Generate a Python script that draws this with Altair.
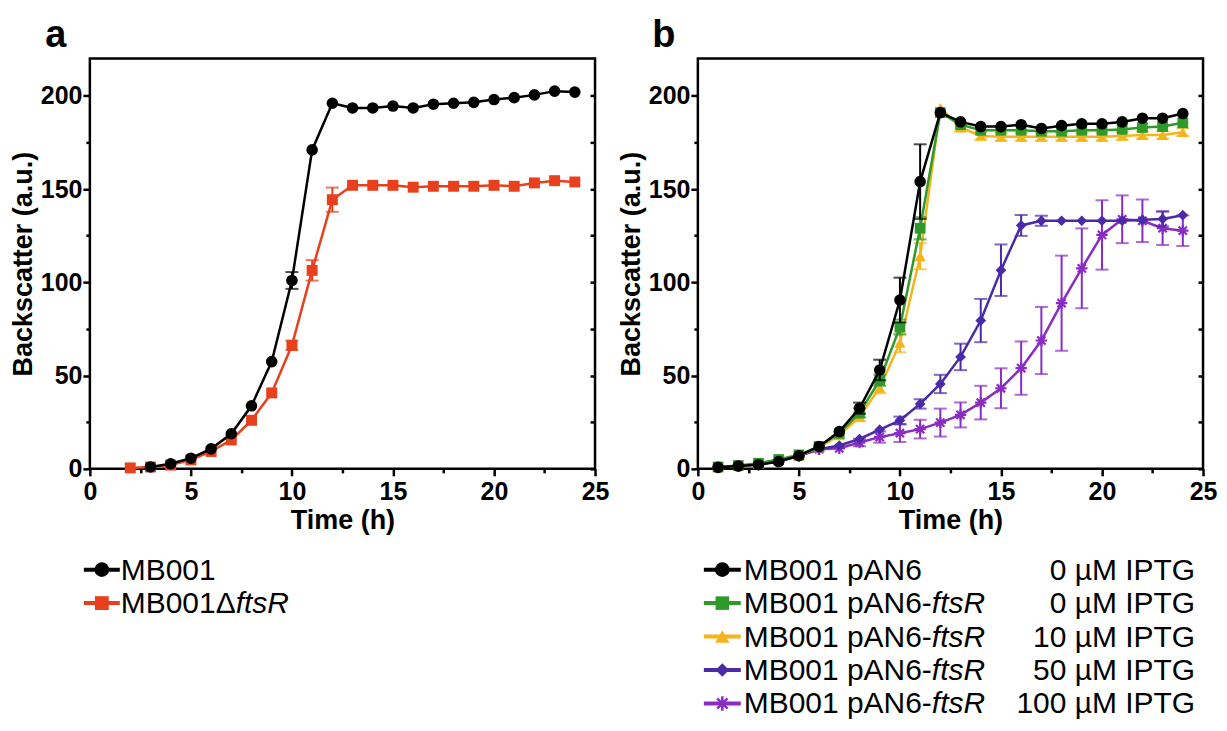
import altair as alt
import pandas as pd

FONT = "Liberation Sans"

# ---------------- data ----------------
# Panel a
TIME_A_WT = list(range(3, 25))
BS_A_WT = [1.0, 2.7, 5.7, 10.7, 18.8, 33.8, 57.5, 101.0, 171.0, 196.0, 193.5,
           193.5, 194.5, 193.5, 195.5, 196.0, 196.5, 198.0, 199.0, 200.5, 202.5, 202.0]
ERR_A_WT = [0.3, 0.4, 0.5, 0.7, 0.8, 1.0, 1.2, 4.5, 1.5, 1.0, 0.8,
            0.8, 0.8, 0.8, 0.8, 0.8, 0.8, 0.8, 0.8, 0.8, 0.8, 0.8]
TIME_A_DEL = list(range(2, 25))
BS_A_DEL = [0.5, 1.0, 2.0, 4.8, 9.3, 15.5, 26.0, 40.7, 66.2, 106.4, 144.3, 152.0,
            152.0, 152.0, 151.0, 151.5, 151.5, 151.5, 152.0, 151.5, 153.3, 154.5, 153.8]
ERR_A_DEL = [0.2, 0.3, 0.4, 0.5, 0.7, 0.8, 1.0, 1.5, 2.5, 5.5, 6.5, 1.5,
             1.0, 1.0, 1.0, 1.0, 1.0, 1.0, 1.0, 1.0, 1.0, 1.0, 1.0]

# Panel b
TIME_B = list(range(1, 25))
BS_B_PAN6 = [0.8, 1.5, 2.2, 3.9, 7.0, 12.0, 20.0, 32.5, 53.0, 90.5, 154.0, 191.0,
             186.0, 183.5, 183.5, 184.5, 182.5, 184.0, 185.0, 185.0, 186.0, 188.0, 188.0, 190.5]
ERR_B_PAN6 = [0.3, 0.4, 0.5, 0.6, 0.8, 1.0, 1.5, 3.0, 5.5, 12.0, 20.0, 1.5,
              1.0, 1.0, 1.0, 1.0, 1.0, 1.0, 1.0, 1.0, 1.0, 1.0, 1.0, 1.0]
BS_B_0 = [1.0, 1.8, 3.0, 5.0, 7.5, 12.0, 19.0, 30.0, 47.5, 76.0, 129.0, 191.0,
          184.5, 181.5, 181.5, 181.5, 181.0, 181.0, 181.5, 181.5, 182.0, 183.0, 183.5, 185.5]
ERR_B_0 = [0.3, 0.4, 0.5, 0.6, 0.8, 1.0, 1.5, 2.5, 3.0, 4.0, 6.0, 1.5,
           1.5, 1.5, 1.5, 1.5, 1.5, 1.5, 1.5, 1.5, 1.5, 1.5, 1.5, 1.5]
BS_B_10 = [0.8, 1.5, 2.5, 4.5, 7.0, 11.5, 18.0, 28.0, 43.5, 67.5, 114.0, 193.5,
           183.0, 178.5, 178.0, 178.0, 178.0, 178.0, 178.0, 178.0, 178.5, 179.0, 179.0, 180.5]
ERR_B_10 = [0.3, 0.4, 0.5, 0.6, 0.8, 1.0, 1.5, 2.5, 3.0, 5.0, 7.0, 1.5,
            2.0, 2.0, 2.0, 2.0, 2.0, 2.0, 2.0, 2.0, 2.0, 2.0, 2.0, 2.0]
BS_B_50 = [0.8, 1.5, 2.5, 4.0, 7.0, 10.5, 12.5, 16.0, 21.0, 26.0, 34.8, 45.5,
           60.0, 79.5, 106.5, 130.5, 133.0, 133.0, 133.0, 133.0, 133.0, 133.5, 134.0, 136.0]
ERR_B_50 = [0.3, 0.4, 0.5, 0.6, 0.8, 1.0, 1.0, 1.5, 1.5, 2.0, 2.5, 4.9,
            7.1, 11.6, 13.8, 5.6, 2.7, 1.0, 1.0, 1.0, 1.0, 1.0, 4.0, 1.5]
BS_B_100 = [0.8, 1.5, 2.5, 4.0, 7.0, 10.5, 11.0, 14.1, 17.0, 19.1, 21.3, 24.8,
            28.9, 35.5, 43.2, 54.0, 68.8, 88.8, 107.5, 125.4, 133.8, 133.0, 129.0, 127.7]
ERR_B_100 = [0.3, 0.4, 0.5, 0.6, 0.8, 1.0, 1.0, 2.0, 3.0, 4.7, 5.0, 7.5,
             6.7, 9.0, 10.7, 14.3, 18.0, 25.5, 21.4, 18.6, 12.8, 11.4, 9.0, 8.2]

# legend texts
STRAIN_A = ["MB001", "MB001\u0394"]
GENE_A = ["", "ftsR"]
STRAIN_B = ["MB001 pAN6", "MB001 pAN6-", "MB001 pAN6-", "MB001 pAN6-", "MB001 pAN6-"]
GENE_B = ["", "ftsR", "ftsR", "ftsR", "ftsR"]
IPTG_B = ["0 \u00b5M IPTG", "0 \u00b5M IPTG", "10 \u00b5M IPTG", "50 \u00b5M IPTG", "100 \u00b5M IPTG"]

X_MAJOR = [0, 5, 10, 15, 20, 25]
X_MINOR = [2.5, 7.5, 12.5, 17.5, 22.5]
Y_MAJOR = [0, 50, 100, 150, 200]
Y_MINOR = [25, 75, 125, 175]

# ---------------- styles / layout ----------------
ASTERISK = "M-1,0L1,0M0,-1L0,1M-0.72,-0.72L0.72,0.72M-0.72,0.72L0.72,-0.72"
ST_BLACK = dict(color="#000000", shape="circle", size=135, filled=True)
ST_RED = dict(color="#E8401C", shape="square", size=120, filled=True)
ST_GREEN = dict(color="#2E9A2A", shape="square", size=115, filled=True)
ST_YELLOW = dict(color="#F6B41C", shape="triangle-up", size=130, filled=True)
ST_DIAMOND = dict(color="#4A2AA6", shape="diamond", size=115, filled=True)
ST_STAR = dict(color="#8A2CC4", shape=ASTERISK, size=130, filled=False)

W, H = 506, 411
LF = 30  # legend font size
ROW = 33.5
LEG_Y0 = 522

xs = alt.Scale(domain=[0, 25], nice=False, zero=False)
ys = alt.Scale(domain=[0, 220], nice=False, zero=False)

ARIAL = {'M': 833, 'B': 667, '0': 556, '1': 556, ' ': 278, 'p': 556, 'A': 667,
         'N': 722, '6': 556, '-': 333, '\u0394': 668}


def text_w(s, size):
    return sum(ARIAL.get(c, 556) for c in s) * size / 1000.0


def make_df(t, v, e):
    return pd.DataFrame({"t": t, "v": v, "e": e})


AXC = dict(domain=False, grid=False, tickColor="black", tickWidth=2.5,
           labelColor="black", titleColor="black", labelFont=FONT, titleFont=FONT,
           labelFlush=False, labelOverlap=False)


def axis_layers(df):
    base = alt.Chart(df).mark_point(opacity=0)
    xmaj = alt.Axis(orient="bottom", values=X_MAJOR, tickSize=7, labelFontSize=25,
                    labelFontWeight="bold", labelPadding=4, title="Time (h)",
                    titleFontSize=27, titleFontWeight="bold", titlePadding=3, **AXC)
    xmin = alt.Axis(orient="bottom", values=X_MINOR, tickSize=4, labels=False,
                    title=None, **AXC)
    ymaj = alt.Axis(orient="left", values=Y_MAJOR, tickSize=7, labelFontSize=25,
                    labelFontWeight="bold", labelPadding=1, title="Backscatter (a.u.)",
                    titleFontSize=27, titleFontWeight="bold", titlePadding=3, **AXC)
    ymin = alt.Axis(orient="left", values=Y_MINOR, tickSize=4, labels=False,
                    title=None, **AXC)
    yright = alt.Axis(orient="right", values=Y_MAJOR + Y_MINOR, tickSize=5, offset=-5,
                      labels=False, title=None, **AXC)
    return [
        base.encode(x=alt.X("t:Q", scale=xs, axis=xmaj), y=alt.Y("v:Q", scale=ys, axis=ymaj)),
        base.encode(x=alt.X("t:Q", scale=xs, axis=xmin), y=alt.Y("v:Q", scale=ys, axis=ymin)),
        base.encode(x=alt.X("t:Q", scale=xs, axis=None), y=alt.Y("v:Q", scale=ys, axis=yright)),
    ]


def series_layers(df, st):
    base = alt.Chart(df)
    x = alt.X("t:Q", scale=xs, axis=None)
    y = alt.Y("v:Q", scale=ys, axis=None)
    c = st["color"]
    line = base.mark_line(color=c, strokeWidth=2.5).encode(x=x, y=y)
    errbase = base.transform_filter("datum.e >= 2").transform_calculate(
        lo="datum.v - datum.e", hi="datum.v + datum.e")
    rule = errbase.mark_rule(color=c, strokeWidth=2).encode(
        x=x, y=alt.Y("lo:Q", scale=ys, axis=None), y2="hi:Q")
    caps = errbase.transform_fold(["lo", "hi"], as_=["k", "cap"]).mark_tick(
        orient="horizontal", size=13, thickness=2, color=c).encode(
        x=x, y=alt.Y("cap:Q", scale=ys, axis=None))
    if st["filled"]:
        pts = base.mark_point(shape=st["shape"], size=st["size"], filled=True,
                              color=c, opacity=1).encode(x=x, y=y)
    else:
        pts = base.mark_point(shape=st["shape"], size=st["size"], filled=False,
                              color=c, opacity=1, strokeWidth=2.2).encode(x=x, y=y)
    return [line, rule, caps, pts]


def legend_row(st, yb, x0, x1, xt, strain, gene, right=None, xr=None):
    one = pd.DataFrame({"k": [0]})
    yc = yb - 10
    c = st["color"]
    out = [alt.Chart(one).mark_rule(color=c, strokeWidth=4).encode(
        x=alt.value(x0), x2=alt.value(x1), y=alt.value(yc))]
    if st["filled"]:
        out.append(alt.Chart(one).mark_point(shape=st["shape"], size=st["size"] * 1.6,
                                             filled=True, color=c, opacity=1).encode(
            x=alt.value((x0 + x1) / 2), y=alt.value(yc)))
    else:
        out.append(alt.Chart(one).mark_point(shape=st["shape"], size=st["size"] * 1.6,
                                             filled=False, color=c, opacity=1,
                                             strokeWidth=2.5).encode(
            x=alt.value((x0 + x1) / 2), y=alt.value(yc)))
    out.append(alt.Chart(pd.DataFrame({"label": [strain]})).mark_text(
        align="left", baseline="alphabetic", fontSize=LF, font=FONT, color="black").encode(
        text="label:N", x=alt.value(xt), y=alt.value(yb)))
    if gene:
        out.append(alt.Chart(pd.DataFrame({"label": [gene]})).mark_text(
            align="left", baseline="alphabetic", fontSize=LF, font=FONT, fontStyle="italic",
            color="black").encode(text="label:N", x=alt.value(xt + text_w(strain, LF)),
                                  y=alt.value(yb)))
    if right:
        out.append(alt.Chart(pd.DataFrame({"label": [right]})).mark_text(
            align="right", baseline="alphabetic", fontSize=LF, font=FONT, color="black").encode(
            text="label:N", x=alt.value(xr), y=alt.value(yb)))
    return out


def letter_layer(letter):
    return alt.Chart(pd.DataFrame({"label": [letter]})).mark_text(
        fontSize=38, fontWeight="bold", font=FONT, align="center", baseline="alphabetic",
        color="black").encode(text="label:N", x=alt.value(-34), y=alt.value(-12))


# ---------------- panel a ----------------
dfa_wt = make_df(TIME_A_WT, BS_A_WT, ERR_A_WT)
dfa_del = make_df(TIME_A_DEL, BS_A_DEL, ERR_A_DEL)
layers_a = axis_layers(dfa_wt)
layers_a += series_layers(dfa_del, ST_RED)
layers_a += series_layers(dfa_wt, ST_BLACK)
for i, st in enumerate([ST_BLACK, ST_RED]):
    layers_a += legend_row(st, LEG_Y0 + i * ROW, -6, 30, 31, STRAIN_A[i], GENE_A[i])
layers_a.append(letter_layer("a"))
panel_a = alt.layer(*layers_a).properties(width=W, height=H).resolve_axis(
    x="independent", y="independent")

# ---------------- panel b ----------------
series_b = [
    (BS_B_100, ERR_B_100, ST_STAR),
    (BS_B_50, ERR_B_50, ST_DIAMOND),
    (BS_B_10, ERR_B_10, ST_YELLOW),
    (BS_B_0, ERR_B_0, ST_GREEN),
    (BS_B_PAN6, ERR_B_PAN6, ST_BLACK),
]
layers_b = axis_layers(make_df(TIME_B, BS_B_PAN6, ERR_B_PAN6))
for v, e, st in series_b:
    layers_b += series_layers(make_df(TIME_B, v, e), st)
legend_styles_b = [ST_BLACK, ST_GREEN, ST_YELLOW, ST_DIAMOND, ST_STAR]
for i, st in enumerate(legend_styles_b):
    layers_b += legend_row(st, LEG_Y0 + i * ROW, 6, 43, 46, STRAIN_B[i], GENE_B[i],
                           IPTG_B[i], 498)
layers_b.append(letter_layer("b"))
panel_b = alt.layer(*layers_b).properties(width=W, height=H).resolve_axis(
    x="independent", y="independent")

chart = alt.hconcat(panel_a, panel_b, spacing=5,
                    padding={"top": 6, "left": 0, "right": 0, "bottom": 0}).configure(
    font=FONT).configure_view(stroke="black", strokeWidth=2.5)

chart.save("out.html", embed_options={"renderer": "svg", "actions": False})
